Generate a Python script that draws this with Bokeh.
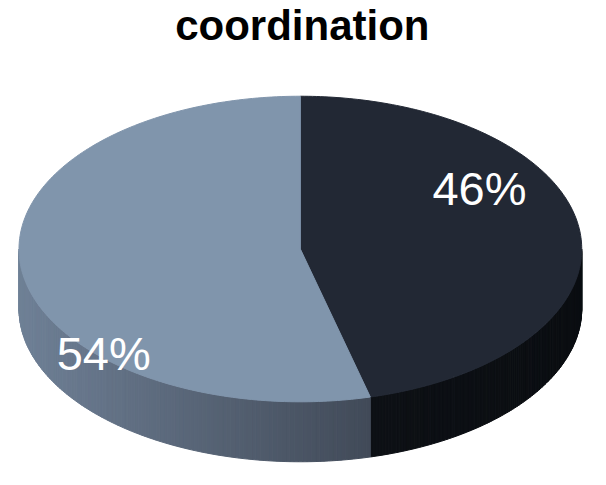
import numpy as np
from bokeh.plotting import figure
from bokeh.models import Range1d, ColumnDataSource
from bokeh.embed import file_html
from bokeh.resources import INLINE
from bokeh.core.properties import value

# ---- data ----
title_text = "coordination"
categories = ["Dark", "Light"]
values = [46, 54]
top_colors = ["#222834", "#8095ac"]
side_colors = [("#0d1015", "#0b0e12"), ("#6f8096", "#414a58")]

# ---- layout (reference pixel coordinates, y down) ----
W, H = 590, 469
REF_W, REF_H = 606, 485
CX, CY = 308.0, 257.0
A, B = 289.0, 158.0
DEPTH = 62.0
label_pos = [(492, 194), (106, 365)]
title_pos = (310, 26)
FONT = "Liberation Sans"


def hex_to_rgb(h):
    h = h.lstrip("#")
    return np.array([int(h[i:i + 2], 16) for i in (0, 2, 4)], dtype=float)


def rgb_to_hex(c):
    c = np.clip(np.round(c), 0, 255).astype(int)
    return "#%02x%02x%02x" % tuple(c)


def pt(phi):
    return CX + A * np.sin(phi), CY - B * np.cos(phi)


p = figure(width=W, height=H, output_backend="svg", toolbar_location=None,
           x_range=Range1d(0, REF_W), y_range=Range1d(REF_H, 0),
           min_border=0, outline_line_color=None)
p.axis.visible = False
p.grid.visible = False
p.background_fill_color = "white"
p.border_fill_color = "white"

total = float(sum(values))
fracs = np.cumsum([0.0] + [v / total for v in values])

# ---- front wall with gradient strips ----
sx, sy, sc = [], [], []
for i, v in enumerate(values):
    a0 = 2 * np.pi * fracs[i]
    a1 = 2 * np.pi * fracs[i + 1]
    lo = max(a0, np.pi / 2)
    hi = min(a1, 3 * np.pi / 2)
    if hi <= lo:
        continue
    n = 120
    phis = np.linspace(lo, hi, n + 1)
    xs_all = CX + A * np.sin(phis)
    xmin, xmax = xs_all.min(), xs_all.max()
    cl, cr = hex_to_rgb(side_colors[i][0]), hex_to_rgb(side_colors[i][1])
    for k in range(n):
        x0, y0 = pt(phis[k])
        x1, y1 = pt(phis[k + 1])
        xm = 0.5 * (x0 + x1)
        t = (xm - xmin) / (xmax - xmin) if xmax > xmin else 0
        col = rgb_to_hex(cl + (cr - cl) * t)
        sx.append([x0, x1, x1, x0])
        sy.append([y0, y1, y1 + DEPTH, y0 + DEPTH])
        sc.append(col)

p.patches(xs="xs", ys="ys", fill_color="c", line_color="c", line_width=1,
          source=ColumnDataSource(dict(xs=sx, ys=sy, c=sc)))

# ---- top slices ----
tx, ty, tc = [], [], []
for i, v in enumerate(values):
    a0 = 2 * np.pi * fracs[i]
    a1 = 2 * np.pi * fracs[i + 1]
    phis = np.linspace(a0, a1, 200)
    xs, ys = pt(phis)
    tx.append([CX] + list(xs) + [CX])
    ty.append([CY] + list(ys) + [CY])
    tc.append(top_colors[i])

p.patches(xs="xs", ys="ys", fill_color="c", line_color="c", line_width=1,
          source=ColumnDataSource(dict(xs=tx, ys=ty, c=tc)))

# ---- labels ----
labels = [f"{v}%" for v in values]
p.text(x=[q[0] for q in label_pos], y=[q[1] for q in label_pos], text=labels,
       text_color="white", text_font=value(FONT), text_font_size="47px",
       text_align="center", text_baseline="middle")

# ---- title ----
p.text(x=[title_pos[0]], y=[title_pos[1]], text=[title_text],
       text_color="black", text_font=value(FONT), text_font_size="42px",
       text_font_style="bold", text_align="center", text_baseline="middle")

open("out.html", "w").write(file_html(p, INLINE))
